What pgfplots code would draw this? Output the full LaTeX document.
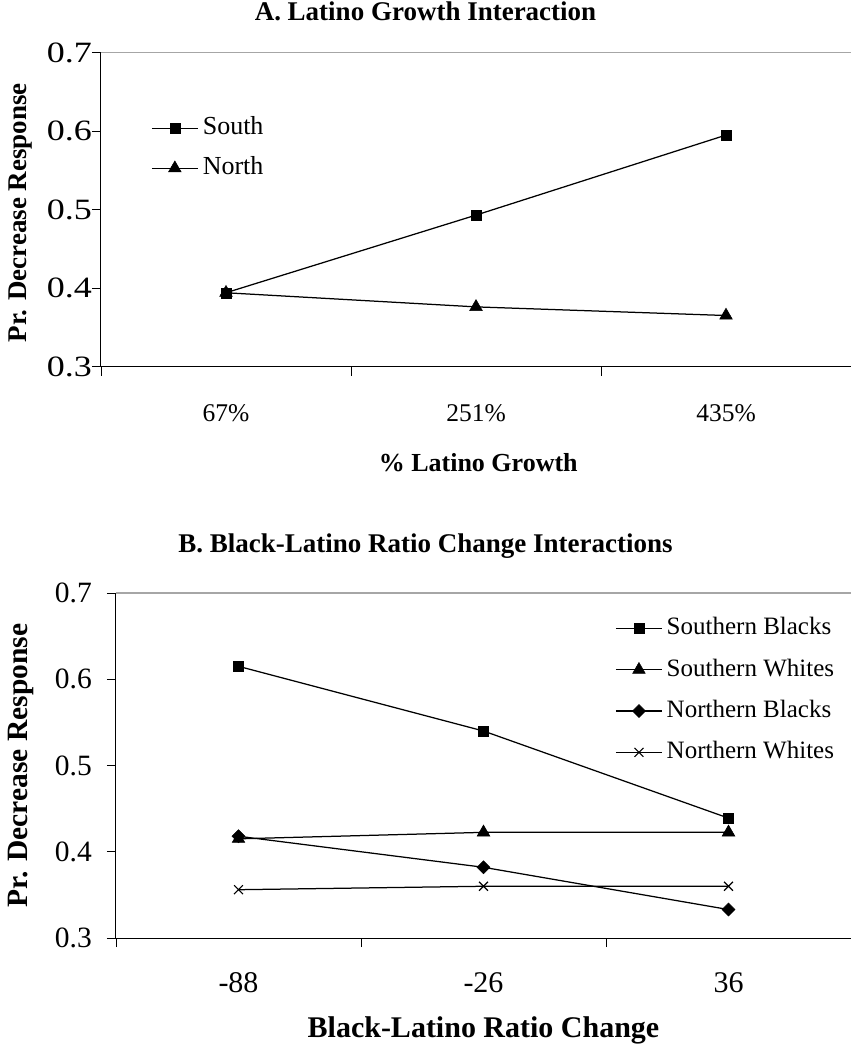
\documentclass[border=0pt]{standalone}
\usepackage{fontspec}
\setmainfont{Liberation Serif}
\newfontfamily\ytfont[FakeStretch=1.22]{Liberation Serif}
\usepackage{pgfplots}
\pgfplotsset{compat=1.18}
\pgfplotsset{
  common/.style={
    scale only axis,
    xmin=0.5, xmax=3.5, ymin=0.3, ymax=0.7,
    ytick={0.3,0.4,0.5,0.6,0.7},
    yticklabel style={/pgf/number format/fixed, /pgf/number format/fixed zerofill, /pgf/number format/precision=1},
    /pgf/number format/assume math mode=true,
    axis x line*=bottom, axis y line*=left,
    xtick={0.5,1.5,2.5,3.5}, x tick label as interval,
    tick align=outside, major tick length=9pt,
    tick style={black, line width=0.8pt},
    axis line style={black, line width=1pt},
    clip=false,
    legend cell align=left,
    /pgfplots/legend image code/.code={\draw[mark repeat=2,mark phase=2,##1] plot coordinates {(0pt,0pt)(23pt,0pt)(46pt,0pt)};},
  },
  ln/.style={black, line width=1.25pt},
  sq/.style={ln, mark=square*, mark size=5pt, mark options={solid, line width=0.5pt}},
  tri/.style={ln, mark=triangle*, mark size=7.3pt, mark options={solid, line width=0.5pt}},
  dia/.style={ln, mark=square*, mark size=4.6pt, mark options={solid, rotate=45, line width=0.5pt}},
  crs/.style={ln, mark=x, mark size=6.3pt, mark options={solid, line width=1.1pt}},
}
\begin{document}
\begin{tikzpicture}[x=1pt,y=1pt]
\path[use as bounding box] (0,0) rectangle (851,-1053);

% Panel A
\begin{axis}[common,
  at={(101pt,-366.5pt)}, anchor=south west,
  width=750pt, height=313.8pt,
  xticklabels={67\%,251\%,435\%},
  xticklabel style={font=\fontsize{25.5}{25.5}\selectfont, yshift=-26pt},
  yticklabel style={font=\ytfont\fontsize{29.5}{29.5}\selectfont, inner sep=0pt},
  title={A. Latino Growth Interaction},
  title style={font=\bfseries\fontsize{27}{27}\selectfont, at={(0.4327,1.1142)}, anchor=center},
  xlabel={\% Latino Growth},
  xlabel style={font=\bfseries\fontsize{26}{26}\selectfont, at={(0.503,-0.3054)}, anchor=center},
  ylabel={Pr. Decrease Response},
  ylabel style={font=\bfseries\fontsize{27}{27}\selectfont, at={(-0.1067,0.49)}, anchor=center},
  legend style={at={(0.0627,0.803)}, anchor=north west, draw=none, fill=none,
    font=\fontsize{26}{26}\selectfont, row sep=17pt, column sep=0pt,
    nodes={inner sep=0pt, text height=18pt, text depth=5pt}},
]
\draw[gray!70, line width=1.5pt] (rel axis cs:0,1) -- (rel axis cs:1,1);
\addplot[sq] coordinates {(1,0.394) (2,0.493) (3,0.595)};
\addlegendentry{\,South}
\addplot[tri] coordinates {(1,0.394) (2,0.376) (3,0.365)};
\addlegendentry{\,North}
\end{axis}

% Panel B
\begin{axis}[common,
  at={(116pt,-938pt)}, anchor=south west,
  width=735pt, height=345pt,
  xticklabels={-88,-26,36},
  xticklabel style={font=\fontsize{30}{30}\selectfont, yshift=-22pt},
  yticklabel style={font=\fontsize{29.5}{29.5}\selectfont, inner sep=0pt, xshift=-15pt},
  title={B. Black-Latino Ratio Change Interactions},
  title style={font=\bfseries\fontsize{27}{27}\selectfont, at={(0.4211,1.1188)}, anchor=center},
  xlabel={Black-Latino Ratio Change},
  xlabel style={font=\bfseries\fontsize{30}{30}\selectfont, at={(0.5,-0.2667)}, anchor=center},
  ylabel={Pr. Decrease Response},
  ylabel style={font=\bfseries\fontsize{29.5}{29.5}\selectfont, at={(-0.129,0.5)}, anchor=center},
  legend style={at={(0.675,0.937)}, anchor=north west, draw=none, fill=none,
    font=\fontsize{25}{25}\selectfont, row sep=18.3pt, column sep=0pt,
    nodes={inner sep=0pt, text height=18pt, text depth=5pt}},
]
\draw[gray!70, line width=1.5pt] (rel axis cs:0,1) -- (rel axis cs:1,1);
\addplot[sq] coordinates {(1,0.615) (2,0.540) (3,0.439)};
\addlegendentry{\,Southern Blacks}
\addplot[tri] coordinates {(1,0.415) (2,0.4225) (3,0.4225)};
\addlegendentry{\,Southern Whites}
\addplot[dia] coordinates {(1,0.418) (2,0.382) (3,0.333)};
\addlegendentry{\,Northern Blacks}
\addplot[crs] coordinates {(1,0.356) (2,0.360) (3,0.360)};
\addlegendentry{\,Northern Whites}
\end{axis}
\end{tikzpicture}
\end{document}
